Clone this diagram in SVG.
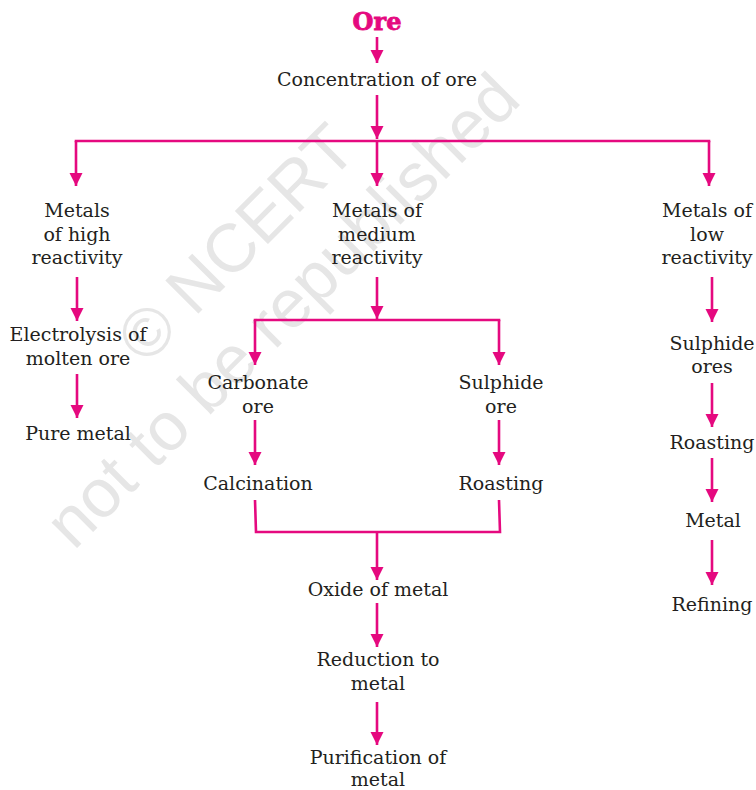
<svg xmlns="http://www.w3.org/2000/svg" width="756" height="790" viewBox="0 0 756 790">
<style>
.t{font-family:"DejaVu Serif","Liberation Serif",serif;font-size:19px;fill:#231f20;text-anchor:middle}
.ore{font-family:"DejaVu Serif","Liberation Serif",serif;font-size:24px;font-weight:bold;fill:#e5097f;stroke:#e5097f;stroke-width:0.8;text-anchor:middle}
.c{fill:none;stroke:#e5097f;stroke-width:2.6}
.a{marker-end:url(#ah)}
.wm{font-family:"Liberation Sans","DejaVu Sans",sans-serif;font-size:68px;fill:#e6e6e6;text-anchor:middle}
</style>
<defs>
<marker id="ah" markerUnits="userSpaceOnUse" markerWidth="14" markerHeight="14" refX="13" refY="6.5" orient="auto">
<path d="M0,0 L13,6.5 L0,13 z" fill="#e5097f"/>
</marker>
</defs>
<rect width="756" height="790" fill="#ffffff"/>
<g id="watermark" transform="rotate(-45)">
<text class="wm" x="-5" y="362">© NCERT</text>
<text class="wm" x="-20" y="442">not to be republished</text>
</g>
<g id="connectors">
<path class="c a" d="M377,37 V63"/>
<path class="c a" d="M377,95 V139"/>
<path class="c" d="M76,141 H709" stroke-linecap="square"/>
<path class="c a" d="M76,141 V186"/>
<path class="c a" d="M377,141 V186"/>
<path class="c a" d="M709,141 V186"/>
<path class="c a" d="M77,277 V321"/>
<path class="c a" d="M77,374 V418"/>
<path class="c a" d="M377,277 V319"/>
<path class="c" d="M255,320 H499" stroke-linecap="square"/>
<path class="c a" d="M255,320 V365"/>
<path class="c a" d="M499,320 V365"/>
<path class="c a" d="M255,420 V465"/>
<path class="c a" d="M499,420 V465"/>
<path class="c" d="M255,500 L256,532 H500 L499,500"/>
<path class="c a" d="M377,532 V580"/>
<path class="c a" d="M377,603 V647"/>
<path class="c a" d="M377,702 V745"/>
<path class="c a" d="M712,277 V322"/>
<path class="c a" d="M712,383 V427"/>
<path class="c a" d="M712,458 V502"/>
<path class="c a" d="M712,540 V585"/>
</g>
<g id="ore"><text class="ore" x="377" y="30">Ore</text></g>
<g id="concentration"><text class="t" x="377" y="86">Concentration of ore</text></g>
<g id="high"><text class="t" x="77" y="217">Metals</text><text class="t" x="77" y="241">of high</text><text class="t" x="77" y="264">reactivity</text></g>
<g id="electrolysis"><text class="t" x="78" y="341">Electrolysis of</text><text class="t" x="78" y="365">molten ore</text></g>
<g id="pure"><text class="t" x="78" y="440">Pure metal</text></g>
<g id="medium"><text class="t" x="377" y="217">Metals of</text><text class="t" x="377" y="241">medium</text><text class="t" x="377" y="264">reactivity</text></g>
<g id="carbonate"><text class="t" x="258" y="389">Carbonate</text><text class="t" x="258" y="413">ore</text></g>
<g id="calcination"><text class="t" x="258" y="490">Calcination</text></g>
<g id="sulphide-ore"><text class="t" x="501" y="389">Sulphide</text><text class="t" x="501" y="413">ore</text></g>
<g id="roasting-mid"><text class="t" x="501" y="490">Roasting</text></g>
<g id="oxide"><text class="t" x="378" y="596">Oxide of metal</text></g>
<g id="reduction"><text class="t" x="378" y="666">Reduction to</text><text class="t" x="378" y="690">metal</text></g>
<g id="purification"><text class="t" x="378" y="764">Purification of</text><text class="t" x="378" y="786">metal</text></g>
<g id="low"><text class="t" x="707" y="217">Metals of</text><text class="t" x="707" y="241">low</text><text class="t" x="707" y="264">reactivity</text></g>
<g id="sulphide-ores"><text class="t" x="712" y="350">Sulphide</text><text class="t" x="712" y="373">ores</text></g>
<g id="roasting-low"><text class="t" x="712" y="449">Roasting</text></g>
<g id="metal"><text class="t" x="713" y="527">Metal</text></g>
<g id="refining"><text class="t" x="712" y="611">Refining</text></g>
</svg>
